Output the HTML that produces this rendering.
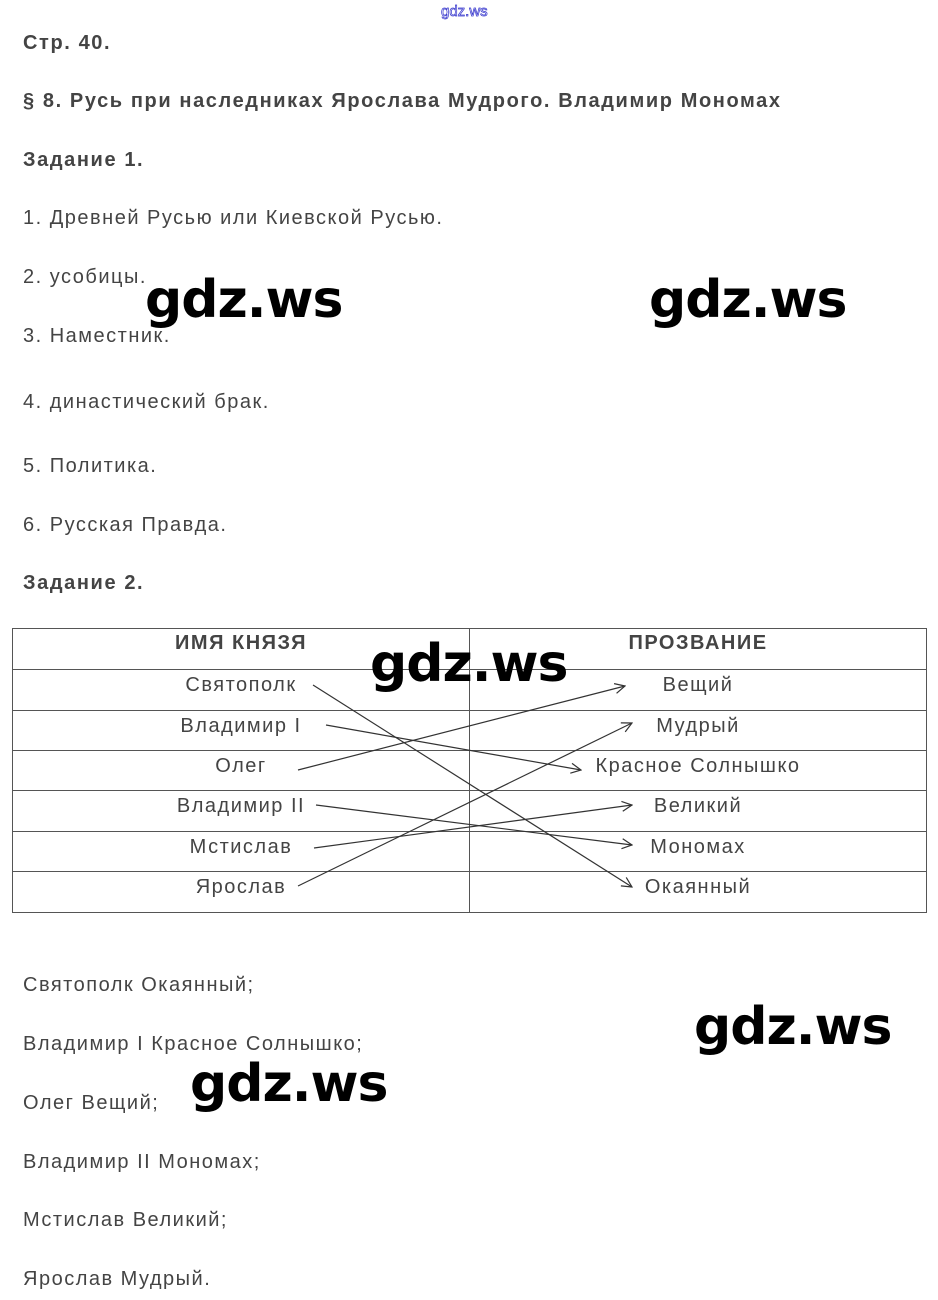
<!DOCTYPE html>
<html><head><meta charset="utf-8"><style>
body{margin:0;width:938px;height:1300px;background:#fff;position:relative;overflow:hidden;font-family:"Liberation Sans",sans-serif;color:#444}
.t{position:absolute;left:23px;font-size:20px;white-space:nowrap;line-height:1;letter-spacing:1.5px}
.b{font-weight:bold;letter-spacing:1.6px}
.w{position:absolute;font-family:"DejaVu Sans","Liberation Sans",sans-serif;font-weight:bold;font-size:52px;color:#000;line-height:1;letter-spacing:-1px}
.c{position:absolute;font-size:20px;line-height:1;transform:translateX(-50%);white-space:nowrap;letter-spacing:1.5px}
</style></head><body>
<div style="position:absolute;left:441px;top:3px;font-size:15px;color:#fff;-webkit-text-stroke:0.7px #33c">gdz.ws</div>
<div class="t b" style="top:33px">Стр. 40.</div>
<div class="t b" style="top:91px">§ 8. Русь при наследниках Ярослава Мудрого. Владимир Мономах</div>
<div class="t b" style="top:150px">Задание 1.</div>
<div class="t" style="top:208px">1. Древней Русью или Киевской Русью.</div>
<div class="t" style="top:267px">2. усобицы.</div>
<div class="t" style="top:326px">3. Наместник.</div>
<div class="t" style="top:392px">4. династический брак.</div>
<div class="t" style="top:456px">5. Политика.</div>
<div class="t" style="top:515px">6. Русская Правда.</div>
<div class="t b" style="top:573px">Задание 2.</div>

<svg style="position:absolute;left:0;top:0" width="938" height="1300">
<g stroke="#555" stroke-width="1" fill="none">
<rect x="12.5" y="628.5" width="914" height="284"/>
<line x1="469.5" y1="628" x2="469.5" y2="912"/>
<line x1="12" y1="669.5" x2="926" y2="669.5"/>
<line x1="12" y1="710.5" x2="926" y2="710.5"/>
<line x1="12" y1="750.5" x2="926" y2="750.5"/>
<line x1="12" y1="790.5" x2="926" y2="790.5"/>
<line x1="12" y1="831.5" x2="926" y2="831.5"/>
<line x1="12" y1="871.5" x2="926" y2="871.5"/>
</g>
<defs><marker id="a" markerWidth="12" markerHeight="12" refX="11" refY="6" orient="auto" markerUnits="userSpaceOnUse"><path d="M1,1 L11,6 L1,11" fill="none" stroke="#333" stroke-width="1.2"/></marker></defs>
<g stroke="#333" stroke-width="1.2" marker-end="url(#a)">
<line x1="313" y1="685" x2="632" y2="887"/>
<line x1="326" y1="725" x2="581" y2="770"/>
<line x1="298" y1="770" x2="625" y2="686"/>
<line x1="316" y1="805" x2="632" y2="845"/>
<line x1="314" y1="848" x2="632" y2="805"/>
<line x1="298" y1="886" x2="632" y2="723"/>
</g>
</svg>
<div class="c b" style="left:241px;top:633px">ИМЯ КНЯЗЯ</div>
<div class="c b" style="left:698px;top:633px">ПРОЗВАНИЕ</div>
<div class="c" style="left:241px;top:675px">Святополк</div>
<div class="c" style="left:241px;top:716px">Владимир I</div>
<div class="c" style="left:241px;top:756px">Олег</div>
<div class="c" style="left:241px;top:796px">Владимир II</div>
<div class="c" style="left:241px;top:837px">Мстислав</div>
<div class="c" style="left:241px;top:877px">Ярослав</div>
<div class="c" style="left:698px;top:675px">Вещий</div>
<div class="c" style="left:698px;top:716px">Мудрый</div>
<div class="c" style="left:698px;top:756px">Красное Солнышко</div>
<div class="c" style="left:698px;top:796px">Великий</div>
<div class="c" style="left:698px;top:837px">Мономах</div>
<div class="c" style="left:698px;top:877px">Окаянный</div>

<div class="t" style="top:975px">Святополк Окаянный;</div>
<div class="t" style="top:1034px">Владимир I Красное Солнышко;</div>
<div class="t" style="top:1093px">Олег Вещий;</div>
<div class="t" style="top:1152px">Владимир II Мономах;</div>
<div class="t" style="top:1210px">Мстислав Великий;</div>
<div class="t" style="top:1269px">Ярослав Мудрый.</div>

<div class="w" style="left:145px;top:274px">gdz.ws</div>
<div class="w" style="left:649px;top:274px">gdz.ws</div>
<div class="w" style="left:370px;top:638px">gdz.ws</div>
<div class="w" style="left:694px;top:1001px">gdz.ws</div>
<div class="w" style="left:190px;top:1058px">gdz.ws</div>
</body></html>
